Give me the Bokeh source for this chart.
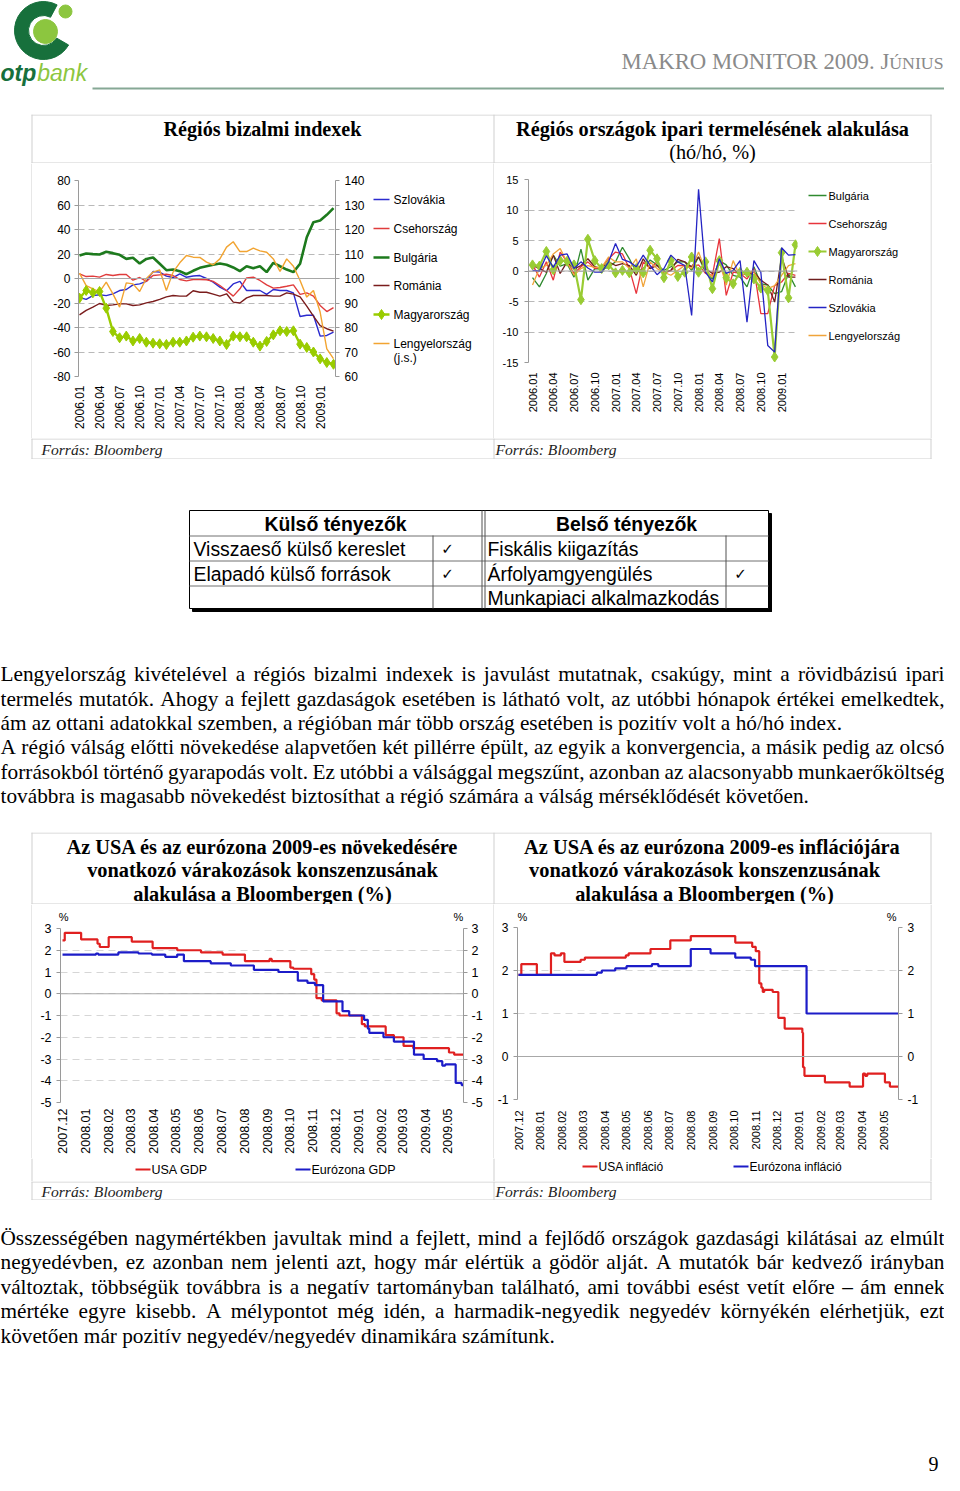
import os, glob, math
import pandas as pd
from bokeh.plotting import figure
from bokeh.models import (Range1d, LinearAxis, FixedTicker, Span, MonthsTicker, DatetimeTickFormatter)
from bokeh.layouts import column, row
from bokeh.core.properties import value
from bokeh.embed import file_html
from bokeh.resources import INLINE
try:
    from PIL import ImageFont
except Exception:
    ImageFont = None

# ======================= DATA =======================
months_top = ["2006.01", "2006.02", "2006.03", "2006.04", "2006.05", "2006.06", "2006.07", "2006.08",
              "2006.09", "2006.10", "2006.11", "2006.12", "2007.01", "2007.02", "2007.03", "2007.04",
              "2007.05", "2007.06", "2007.07", "2007.08", "2007.09", "2007.10", "2007.11", "2007.12",
              "2008.01", "2008.02", "2008.03", "2008.04", "2008.05", "2008.06", "2008.07", "2008.08",
              "2008.09", "2008.10", "2008.11", "2008.12", "2009.01", "2009.02", "2009.03"]

conf_szlovakia = [-15.5, -17.0, -14.0, -13.3, -14.0, -12.5, -9.8, -9.0, -5.2, -4.4, -2.4, 5.7, 5.2, 1.9,
                  0.8, 3.8, 1.0, 2.0, 2.4, 0.0, -3.0, -7.0, -10.0, -4.4, -2.4, -9.8, -9.8, -9.8, -13.0,
                  -9.0, -9.8, -9.8, -11.7, -31.0, -30.0, -30.0, -47.0, -46.5, -43.8]
conf_cseh = [3.8, 1.6, 1.9, 1.1, 3.3, 2.4, 3.3, 3.3, -1.4, 0.8, -2.4, 2.4, 3.0, 3.5, 2.4, -0.8, -1.9,
             -0.8, -0.8, -1.0, -2.4, -5.7, -9.8, -14.4, -8.4, 0.5, 1.1, -1.6, -5.2, -7.9, -7.3, -6.3,
             -5.2, -13.0, -11.7, -14.4, -22.0, -27.0, -23.7]
conf_bulgaria = [18.8, 20.4, 19.9, 19.6, 21.8, 20.7, 19.3, 16.0, 16.9, 12.2, 16.0, 17.1, 12.0, 6.8, 7.3,
                 6.0, 3.5, 6.3, 8.7, 10.0, 11.2, 12.2, 11.2, 9.0, 6.0, 10.0, 8.4, 10.0, 5.2, 12.8, 10.0,
                 7.3, 5.2, 12.0, 33.7, 46.0, 47.3, 52.0, 57.4]
conf_romania = [-29.7, -26.0, -23.4, -20.4, -22.0, -21.5, -20.7, -20.7, -22.0, -21.5, -19.9, -18.8,
                -17.1, -15.0, -13.9, -14.4, -14.4, -10.0, -11.2, -11.2, -12.8, -14.4, -12.5, -19.3,
                -20.0, -15.8, -13.9, -13.9, -13.9, -14.4, -14.4, -11.7, -12.8, -15.0, -22.6, -30.7,
                -38.4, -41.0, -43.0]
conf_magyar = [-16.0, -9.8, -11.7, -10.6, -24.2, -43.3, -48.4, -47.0, -51.0, -49.0, -52.0, -52.8, -53.3,
               -53.9, -52.0, -52.0, -51.0, -47.9, -47.0, -47.6, -49.0, -51.0, -53.9, -47.0, -47.6,
               -47.6, -52.0, -55.2, -51.4, -46.0, -42.7, -43.3, -42.7, -53.6, -56.3, -60.0, -65.6,
               -68.6, -70.0]
conf_lengyel = [102.2, 97.1, 95.8, 94.5, 98.5, 93.7, 88.3, 98.2, 97.8, 94.7, 100.0, 102.6, 103.5, 95.1,
                102.6, 106.4, 109.4, 108.7, 108.6, 106.7, 105.6, 108.0, 112.8, 115.0, 111.0, 111.0,
                112.4, 111.3, 110.7, 108.0, 102.9, 108.0, 105.0, 99.2, 92.4, 95.1, 86.3, 71.3, 67.3]
conf_left_ticks = [-80, -60, -40, -20, 0, 20, 40, 60, 80]
conf_right_ticks = [60, 70, 80, 90, 100, 110, 120, 130, 140]

ip_bulgaria = [-1.1, -2.6, -0.4, 2.6, 0.8, 1.2, -1.0, 3.6, -1.5, 0.4, 0.3, 0.6, 1.5, 3.9, 2.0, -0.2,
               0.4, 1.8, 1.0, 0.1, 0.7, 1.5, 1.5, 0.1, 2.3, -0.2, -1.3, 1.7, 1.0, -0.7, -1.0, -2.6, 0.7,
               -2.1, -2.3, -3.7, -3.4, -0.4, -2.6]
ip_cseh = [1.0, -1.0, 1.5, -1.5, 3.1, 1.5, -0.4, 0.7, 1.5, 0.4, 0.6, 2.0, 3.1, 2.8, 0.4, -3.7, 1.5, 0.4,
           1.5, -0.4, 0.1, 0.9, 0.9, 0.7, 1.0, -0.4, -0.7, 5.3, -4.0, -0.2, -0.4, -1.3, 0.4, -7.0, -7.0,
           -2.4, -1.8, -0.4, -0.7]
ip_magyar = [1.0, 0.8, 3.2, 0.2, 1.7, 1.6, 1.0, -4.7, 5.2, 1.7, 0.4, 1.0, -0.3, 0.1, -0.3, 0.4, -0.3,
             3.4, 2.0, -1.1, 1.7, -0.9, -0.2, 2.3, -0.2, 1.5, -2.9, 1.7, -1.1, -2.1, -0.2, -0.2, -1.3,
             -2.8, -3.2, -14.1, 3.0, -4.4, 4.3]
ip_romania = [0.9, 0.4, -0.2, 2.6, -0.4, 1.5, 0.3, 0.9, 2.0, 0.7, 0.4, 1.5, 0.9, 1.2, 0.9, -0.7, 2.0,
              0.4, 0.9, -0.2, 0.1, 1.9, 1.5, 0.7, 2.3, 0.4, -0.4, -0.2, 0.7, 0.4, -0.7, -0.4, -0.2,
              -1.5, -2.3, -5.1, 2.3, -1.0, -1.0]
ip_szlovakia = [0.1, 0.0, 2.5, 0.6, 2.6, 2.8, 0.4, 1.5, 0.5, -0.2, -0.2, 1.5, 4.5, 1.9, 1.5, 0.7, 2.6,
                0.9, -0.6, 0.4, 2.6, 1.5, 0.9, -7.3, 13.4, -0.2, -1.8, 2.0, -0.4, 0.1, 1.7, -8.4, 1.7,
                -0.2, -12.2, -13.3, 3.8, 2.6, 2.7]
ip_lengyel = [-2.3, 0.4, 0.9, 2.8, 3.7, 1.4, -0.7, 0.4, 0.9, 0.6, 0.6, 2.3, 1.5, 1.5, 0.4, 2.0, -2.6,
              1.5, 0.4, -0.2, -0.7, 0.1, 0.9, 0.4, 3.1, 0.1, -1.0, 1.5, -2.3, 1.7, -0.9, -0.2, -0.2,
              -2.1, -2.9, -2.4, -0.7, 0.9, 1.2]
ip_ticks = [-15, -10, -5, 0, 5, 10, 15]

gdp_usa_dates = ["2007-12-01", "2007-12-04", "2007-12-26", "2008-01-17", "2008-01-20", "2008-02-01",
                 "2008-03-03", "2008-03-31", "2008-05-03", "2008-06-04", "2008-07-03", "2008-08-02",
                 "2008-09-04", "2008-09-07", "2008-10-02", "2008-10-06", "2008-10-30", "2008-11-03",
                 "2008-11-06", "2008-11-13", "2008-12-03", "2008-12-07", "2009-01-06", "2009-01-10",
                 "2009-02-07", "2009-02-18", "2009-03-03", "2009-03-16", "2009-05-03", "2009-05-10",
                 "2009-05-22"]
gdp_usa_vals = [2.45, 2.8, 2.5, 2.3, 2.15, 2.6, 2.4, 2.1, 2.0, 1.9, 1.8, 1.5, 1.6, 1.5, 1.2, 1.15, 0.9,
                0.65, -0.2, -0.3, -0.9, -1.0, -1.4, -1.5, -1.9, -2.0, -2.4, -2.5, -2.7, -2.8, -2.8]
gdp_ez_dates = ["2007-12-01", "2008-01-15", "2008-01-18", "2008-02-14", "2008-03-12", "2008-03-30",
                "2008-04-17", "2008-05-03", "2008-05-12", "2008-06-17", "2008-07-14", "2008-08-14",
                "2008-09-16", "2008-10-12", "2008-10-25", "2008-11-04", "2008-11-15", "2008-12-11",
                "2008-12-20", "2009-01-09", "2009-01-14", "2009-01-16", "2009-02-04", "2009-02-18",
                "2009-03-17", "2009-03-30", "2009-04-17", "2009-04-24", "2009-04-28", "2009-05-12",
                "2009-05-20", "2009-05-22"]
gdp_ez_vals = [1.8, 1.85, 1.8, 1.9, 1.85, 1.8, 1.7, 1.8, 1.5, 1.4, 1.3, 1.1, 1.0, 0.6, 0.5, 0.4, -0.35,
               -0.8, -1.0, -1.2, -1.6, -1.8, -2.0, -2.2, -2.8, -3.0, -3.1, -3.3, -3.25, -4.1, -4.2, -4.2]
gdp_ticks = [-5, -4, -3, -2, -1, 0, 1, 2, 3]

inf_usa_dates = ["2007-12-01", "2007-12-05", "2007-12-27", "2008-01-16", "2008-01-21", "2008-01-30",
                 "2008-02-04", "2008-02-27", "2008-03-04", "2008-05-01", "2008-05-05", "2008-06-05",
                 "2008-07-03", "2008-08-01", "2008-10-03", "2008-10-27", "2008-11-01", "2008-11-06",
                 "2008-11-09", "2008-11-11", "2008-11-13", "2008-11-25", "2008-12-03", "2008-12-12",
                 "2009-01-06", "2009-01-07", "2009-01-09", "2009-02-07", "2009-03-14", "2009-04-02",
                 "2009-04-05", "2009-04-08", "2009-05-03", "2009-05-10", "2009-05-22"]
inf_usa_vals = [1.9, 2.15, 1.9, 2.4, 2.35, 2.4, 2.2, 2.25, 2.3, 2.35, 2.4, 2.5, 2.7, 2.8, 2.65, 2.55,
                2.45, 1.7, 1.6, 1.5, 1.55, 1.5, 0.9, 0.65, 0.55, -0.25, -0.45, -0.6, -0.7, -0.4, -0.45,
                -0.4, -0.6, -0.7, -0.7]
inf_ez_dates = ["2007-12-01", "2008-03-21", "2008-03-28", "2008-04-16", "2008-05-02", "2008-06-07",
                "2008-06-16", "2008-08-01", "2008-08-29", "2008-10-03", "2008-10-25", "2008-10-31",
                "2009-01-12", "2009-05-22"]
inf_ez_vals = [1.9, 1.95, 2.0, 2.05, 2.1, 2.15, 2.1, 2.5, 2.4, 2.3, 2.25, 2.1, 1.0, 1.0]
inf_ticks = [-1, 0, 1, 2, 3]

title_conf = "Régiós bizalmi indexek"
title_ip = ["Régiós országok ipari termelésének alakulása", "(hó/hó, %)"]
title_gdp = ["Az USA és az eurózona 2009-es növekedésére", "vonatkozó várakozások konszenzusának",
             "alakulása a Bloombergen (%)"]
title_inf = ["Az USA és az eurózona 2009-es inflációjára", "vonatkozó várakozások konszenzusának",
             "alakulása a Bloombergen (%)"]
source_text = "Forrás: Bloomberg"
table_head = ["Külső tényezők", "Belső tényezők"]
table_left = ["Visszaeső külső kereslet", "Elapadó külső források", ""]
table_left_check = [True, True, False]
table_right = ["Fiskális kiigazítás", "Árfolyamgyengülés", "Munkapiaci alkalmazkodás"]
table_right_check = [False, True, False]
para1 = ["Lengyelország kivételével a régiós bizalmi indexek is javulást mutatnak, csakúgy, mint a rövidbázisú ipari",
         "termelés mutatók. Ahogy a fejlett gazdaságok esetében is látható volt, az utóbbi hónapok értékei emelkedtek,",
         "ám az ottani adatokkal szemben, a régióban már több ország esetében is pozitív volt a hó/hó index.",
         "A régió válság előtti növekedése alapvetően két pillérre épült, az egyik a konvergencia, a másik pedig az olcsó",
         "forrásokból történő gyarapodás volt. Ez utóbbi a válsággal megszűnt, azonban az alacsonyabb munkaerőköltség",
         "továbbra is magasabb növekedést biztosíthat a régió számára a válság mérséklődését követően."]
para1_justify = [True, True, False, True, True, False]
para2 = ["Összességében nagymértékben javultak mind a fejlett, mind a fejlődő országok gazdasági kilátásai az elmúlt",
         "negyedévben, ez azonban nem jelenti azt, hogy már elértük a gödör alját. A mutatók bár kedvező irányban",
         "változtak, többségük továbbra is a negatív tartományban található, ami további esést vetít előre – ám ennek",
         "mértéke egyre kisebb. A mélypontot még idén, a harmadik-negyedik negyedév környékén elérhetjük, ezt",
         "követően már pozitív negyedév/negyedév dinamikára számítunk."]
para2_justify = [True, True, True, True, False]

# ======================= STYLE =======================
SANS = "Liberation Sans"
SERIF = "Liberation Serif"
BORDER = "#cfcfcf"
AXIS = "#9a9a9a"
GRID = "#b9b9b9"
ZERO = "#a8a8a8"
DARK_G = "#17703c"
LIGHT_G = "#8cc63f"
W = 944

C_SZL, C_CZ, C_BG, C_RO, C_HU, C_PL = "#2b2bcf", "#e03c3c", "#1d7a1d", "#7a1c1c", "#99cc00", "#f2a431"
D_BG, D_CZ, D_HU, D_RO, D_SZL, D_PL = "#2f8a2f", "#e8343c", "#99cc33", "#6e1d1d", "#2424c4", "#f0a43a"
C_USA, C_EZ = "#e02020", "#1c1cc8"

_fonts = {}
def _load(fname):
    if fname in _fonts:
        return _fonts[fname]
    f = None
    if ImageFont is not None:
        hits = []
        for base in ["/usr/share/fonts", "/usr/local/share/fonts", os.path.expanduser("~/.fonts")]:
            hits += glob.glob(base + "/**/" + fname, recursive=True)
        if hits:
            try:
                f = ImageFont.truetype(sorted(hits)[0], 100)
            except Exception:
                f = None
    _fonts[fname] = f
    return f

def tw(s, fname, size, avg=0.47):
    f = _load(fname)
    if f is None:
        return avg * size * len(s)
    return f.getlength(s) * size / 100.0

def fit(s, fname, width, default):
    if _load(fname) is None:
        return default
    return width / tw(s, fname, 1.0)

def no_align(f):
    try:
        f.frame_align = False
    except Exception:
        pass
    return f

def page_fig(w, h, bg="white"):
    f = figure(width=w, height=h, x_range=Range1d(0, w), y_range=Range1d(h, 0),
               x_axis_type=None, y_axis_type=None, min_border=0,
               output_backend="svg", toolbar_location=None)
    f.outline_line_color = None
    f.background_fill_color = bg
    f.border_fill_color = bg
    return no_align(f)

def put(f, xs, ys, texts, size, font=SERIF, style="normal", color="black", align="left", baseline="middle"):
    f.text(x=list(xs), y=list(ys), text=list(texts), text_font=value(font),
           text_font_size=value("%.2fpx" % size), text_font_style=style, text_color=color,
           text_align=align, text_baseline=baseline)

def chart_common(p):
    no_align(p)
    p.outline_line_color = None
    p.background_fill_color = "white"
    p.border_fill_color = "white"
    p.xgrid.visible = False

def style_y(ax, size, standoff=4, tick_out=4):
    ax.axis_line_color = AXIS
    ax.major_tick_line_color = AXIS
    ax.major_tick_out = tick_out
    ax.major_tick_in = 0
    ax.minor_tick_line_color = None
    ax.major_label_text_font = SANS
    ax.major_label_text_font_size = "%spx" % size
    ax.major_label_text_color = "black"
    ax.major_label_standoff = standoff

def style_x(ax, size, standoff):
    ax.axis_line_color = None
    ax.major_tick_line_color = None
    ax.minor_tick_line_color = None
    ax.major_tick_out = 0
    ax.major_tick_in = 0
    ax.minor_tick_out = 0
    ax.major_label_text_font = SANS
    ax.major_label_text_font_size = "%spx" % size
    ax.major_label_text_color = "black"
    ax.major_label_standoff = standoff
    ax.major_label_orientation = math.pi / 2

def labels_for(ticks):
    return {t: str(t) for t in ticks}

def pct_axis(p, left_frac, right_frac, standoff):
    # "%" unit marks above both value axes
    p.extra_x_ranges = {"pct": Range1d(0, 1)}
    ax = LinearAxis(x_range_name="pct", ticker=FixedTicker(ticks=[left_frac, right_frac]),
                    major_label_overrides={left_frac: "%", right_frac: "%"})
    ax.axis_line_color = None
    ax.major_tick_line_color = None
    ax.minor_tick_line_color = None
    ax.major_tick_out = 0
    ax.major_tick_in = 0
    ax.minor_tick_out = 0
    ax.major_label_text_font = SANS
    ax.major_label_text_font_size = "11px"
    ax.major_label_text_color = "black"
    ax.major_label_standoff = standoff
    p.add_layout(ax, "above")

def box_lines(f, h, top=True, bottom=True):
    ys = ([0.5] if top else []) + ([h - 0.5] if bottom else [])
    if ys:
        f.segment(x0=[31] * len(ys), y0=ys, x1=[931] * len(ys), y1=ys, line_color=BORDER, line_width=1)
    f.segment(x0=[31.5, 493.5, 930.5], y0=[0, 0, 0], x1=[31.5, 493.5, 930.5], y1=[h, h, h],
              line_color=BORDER, line_width=1)

def legend_entry(f, x0, x1, y, color, lw, label, size, diamond=False, tx=None):
    f.segment(x0=[x0], y0=[y], x1=[x1], y1=[y], line_color=color, line_width=lw)
    if diamond:
        f.scatter(x=[(x0 + x1) / 2.0], y=[y], marker="diamond", size=10, color=color)
    put(f, [x1 + 1 if tx is None else tx], [y], [label], size, font=SANS)

# ======================= HEADER (ref y 0..114) =======================
SR = "LiberationSerif-Regular.ttf"
SB = "LiberationSerif-Bold.ttf"
SI = "LiberationSerif-Italic.ttf"
hdr = page_fig(W, 114)
hdr.annular_wedge(x=[43], y=[30], inner_radius=15, outer_radius=29,
                  start_angle=math.radians(62), end_angle=math.radians(-30),
                  direction="anticlock", color=DARK_G)
hdr.circle(x=[45], y=[31], radius=12, color=LIGHT_G)
hdr.circle(x=[65], y=[11], radius=6.5, color=LIGHT_G)
otp_sz = 23
otp_w = tw("otp", "LiberationSans-BoldItalic.ttf", otp_sz, 0.55)
put(hdr, [0], [72], ["otp"], otp_sz, font=SANS, style="bold italic", color=DARK_G)
put(hdr, [otp_w + 1], [72], ["bank"], otp_sz, font=SANS, style="italic", color=LIGHT_G)
h_main, h_small = "MAKRO MONITOR 2009. J", "ÚNIUS"
if _load(SR) is not None:
    hsz = 322.0 / (tw(h_main, SR, 1.0) + 0.78 * tw(h_small, SR, 1.0))
else:
    hsz = 22.0
w_small = tw(h_small, SR, 0.78 * hsz)
put(hdr, [943], [61 + 0.066 * hsz], [h_small], 0.78 * hsz, color="#8a8a8a", align="right")
put(hdr, [943 - w_small], [61], [h_main], hsz, color="#8a8a8a", align="right")
hdr.segment(x0=[92], y0=[88], x1=[944], y1=[88], line_color="#86a895", line_width=2)

# ======================= TOP TITLES (ref y 114..163) =======================
top_t = page_fig(W, 49)
box_lines(top_t, 49)
put(top_t, [262], [14], [title_conf], fit(title_conf, SB, 198, 20), style="bold", align="center")
sz2 = fit(title_ip[0], SB, 393, 20)
put(top_t, [712], [14], [title_ip[0]], sz2, style="bold", align="center")
put(top_t, [712], [37], [title_ip[1]], sz2, align="center")

# ======================= TOP-LEFT CHART (ref x 32..372, y 163..438) =======================
xm = list(range(len(months_top)))
p1 = figure(width=340, height=275, x_range=Range1d(-0.15, 38.3), y_range=Range1d(-80, 80),
            min_border_left=46, min_border_right=37, min_border_top=17, min_border_bottom=62,
            output_backend="svg", toolbar_location=None)
chart_common(p1)
p1.extra_y_ranges = {"js": Range1d(60, 140)}
yt1 = FixedTicker(ticks=conf_left_ticks)
style_y(p1.yaxis[0], 12, standoff=4)
p1.yaxis[0].ticker = yt1
p1.yaxis[0].major_label_overrides = labels_for(conf_left_ticks)
p1.ygrid.ticker = yt1
p1.ygrid.grid_line_color = GRID
p1.ygrid.grid_line_dash = "6 4"
style_x(p1.xaxis[0], 12, 9)
p1.xaxis[0].ticker = FixedTicker(ticks=list(range(0, len(months_top), 3)))
p1.xaxis[0].major_label_overrides = {i: months_top[i] for i in range(0, len(months_top), 3)}
p1.add_layout(Span(location=0, dimension="width", line_color=ZERO, line_width=1))
p1.line(xm, conf_szlovakia, line_color=C_SZL, line_width=1.4)
p1.line(xm, conf_cseh, line_color=C_CZ, line_width=1.4)
p1.line(xm, conf_bulgaria, line_color=C_BG, line_width=2.6)
p1.line(xm, conf_romania, line_color=C_RO, line_width=1.4)
p1.line(xm, conf_lengyel, y_range_name="js", line_color=C_PL, line_width=1.4)
p1.line(xm, conf_magyar, line_color=C_HU, line_width=2.4)
p1.scatter(xm, conf_magyar, marker="diamond", size=10, fill_color=C_HU, line_color=C_HU)
ra = LinearAxis(y_range_name="js", ticker=FixedTicker(ticks=conf_right_ticks))
style_y(ra, 12, standoff=5)
ra.major_label_overrides = labels_for(conf_right_ticks)
p1.add_layout(ra, "right")

leg1 = page_fig(121, 275)
ly1 = [36, 65, 94, 122, 151, 180]
legend_entry(leg1, 1, 17, ly1[0], C_SZL, 1.6, "Szlovákia", 12, tx=21)
legend_entry(leg1, 1, 17, ly1[1], C_CZ, 1.6, "Csehország", 12, tx=21)
legend_entry(leg1, 1, 17, ly1[2], C_BG, 2.6, "Bulgária", 12, tx=21)
legend_entry(leg1, 1, 17, ly1[3], C_RO, 1.6, "Románia", 12, tx=21)
legend_entry(leg1, 1, 17, ly1[4], C_HU, 2.4, "Magyarország", 12, diamond=True, tx=21)
legend_entry(leg1, 1, 17, ly1[5], C_PL, 1.6, "Lengyelország", 12, tx=21)
put(leg1, [21], [ly1[5] + 14], ["(j.s.)"], 12, font=SANS)

# ======================= TOP-RIGHT CHART (ref x 494..800) =======================
p2 = figure(width=306, height=275, x_range=Range1d(-0.58, 38.3), y_range=Range1d(-15, 15),
            min_border_left=34, min_border_right=3, min_border_top=16, min_border_bottom=76,
            output_backend="svg", toolbar_location=None)
chart_common(p2)
yt2 = FixedTicker(ticks=ip_ticks)
style_y(p2.yaxis[0], 11, standoff=6)
p2.yaxis[0].ticker = yt2
p2.yaxis[0].major_label_overrides = labels_for(ip_ticks)
p2.ygrid.ticker = yt2
p2.ygrid.grid_line_color = GRID
p2.ygrid.grid_line_dash = "6 4"
style_x(p2.xaxis[0], 11, 10)
p2.xaxis[0].ticker = FixedTicker(ticks=list(range(0, len(months_top), 3)))
p2.xaxis[0].major_label_overrides = {i: months_top[i] for i in range(0, len(months_top), 3)}
p2.add_layout(Span(location=0, dimension="width", line_color=ZERO, line_width=1))
p2.line(xm, ip_bulgaria, line_color=D_BG, line_width=1.3)
p2.line(xm, ip_cseh, line_color=D_CZ, line_width=1.3)
p2.line(xm, ip_romania, line_color=D_RO, line_width=1.3)
p2.line(xm, ip_lengyel, line_color=D_PL, line_width=1.3)
p2.line(xm, ip_magyar, line_color=D_HU, line_width=2.2)
p2.scatter(xm, ip_magyar, marker="diamond", size=10, fill_color=D_HU, line_color=D_HU)
p2.line(xm, ip_szlovakia, line_color=D_SZL, line_width=1.3)

leg2 = page_fig(130, 275)
ly2 = [32, 60, 88, 116, 144, 172]
legend_entry(leg2, 8, 26, ly2[0], D_BG, 1.6, "Bulgária", 11, tx=28)
legend_entry(leg2, 8, 26, ly2[1], D_CZ, 1.6, "Csehország", 11, tx=28)
legend_entry(leg2, 8, 26, ly2[2], D_HU, 2.2, "Magyarország", 11, diamond=True, tx=28)
legend_entry(leg2, 8, 26, ly2[3], D_RO, 1.6, "Románia", 11, tx=28)
legend_entry(leg2, 8, 26, ly2[4], D_SZL, 1.6, "Szlovákia", 11, tx=28)
legend_entry(leg2, 8, 26, ly2[5], D_PL, 1.6, "Lengyelország", 11, tx=28)

def pad_left(h):
    f = page_fig(32, h)
    f.segment(x0=[31.5], y0=[0], x1=[31.5], y1=[h], line_color=BORDER, line_width=1)
    return f

def pad_right(h):
    f = page_fig(W - 930, h)
    f.segment(x0=[0.5], y0=[0], x1=[0.5], y1=[h], line_color=BORDER, line_width=1)
    return f

top_chart_row = row(pad_left(275), p1, leg1, page_fig(1, 275, bg=BORDER), p2, leg2, pad_right(275),
                    spacing=0)

# ======================= TOP SOURCES (ref y 438..459) =======================
src_sz = fit(source_text, SI, 121, 15.5)
top_s = page_fig(W, 21)
box_lines(top_s, 21)
put(top_s, [41, 495], [11, 11], [source_text] * 2, src_sz, style="italic", color="#222222")

# ======================= MIDDLE (ref y 459..832): table + paragraph =======================
PW = 944.0
body_sz = fit(para1[2], SR, 842.0, 19.3)

def paragraph(f, lines, just, ys, size):
    lx, ly, lt, rx, ry, rt = [], [], [], [], [], []
    for line, j, y in zip(lines, just, ys):
        if j:
            words = line.split(" ")
            ws = [tw(w, SR, size) for w in words]
            gap = (PW - sum(ws)) / (len(words) - 1)
            x = 0.0
            for k, (w, wd) in enumerate(zip(words, ws)):
                if k == len(words) - 1:
                    rx.append(PW); ry.append(y); rt.append(w)
                else:
                    lx.append(x); ly.append(y); lt.append(w)
                x += wd + gap
        else:
            lx.append(0); ly.append(y); lt.append(line)
    put(f, lx, ly, lt, size)
    if rt:
        put(f, rx, ry, rt, size, align="right")

mid = page_fig(W, 373)
TL, TR, TT, TB = 189, 768, 51, 149
mid.quad(left=[TR], right=[TR + 3], top=[TT + 3], bottom=[TB + 3], color="black")
mid.quad(left=[TL + 3], right=[TR + 3], top=[TB], bottom=[TB + 3], color="black")
mid.quad(left=[TL], right=[TR], top=[TT], bottom=[TB], fill_color="white", line_color="black", line_width=1)
mid.segment(x0=[TL, TL, TL], y0=[76.5, 101.5, 126.5], x1=[TR, TR, TR], y1=[76.5, 101.5, 126.5],
            line_color="#707070", line_width=1)
mid.segment(x0=[432.5, 725.5, 481.5, 484.5], y0=[76, 76, TT, TT], x1=[432.5, 725.5, 481.5, 484.5],
            y1=[TB, TB, TB, TB], line_color="#505050", line_width=1)
tsz = fit(table_left[0], "LiberationSans-Regular.ttf", 212, 19)
put(mid, [335, 626], [64, 64], table_head, tsz, font=SANS, style="bold", align="center")
rows_y = [89, 114, 138]
put(mid, [193] * 3, rows_y, table_left, tsz, font=SANS)
put(mid, [487] * 3, rows_y, table_right, tsz, font=SANS)
cx, cy = [], []
for k in range(3):
    if table_left_check[k]:
        cx.append(447); cy.append(rows_y[k])
    if table_right_check[k]:
        cx.append(740); cy.append(rows_y[k])
put(mid, cx, cy, ["✓"] * len(cx), 15, font="DejaVu Sans", align="center")
paragraph(mid, para1, para1_justify, [214, 239, 263, 287, 312, 336], body_sz)

# ======================= BOTTOM TITLES (ref y 832..904) =======================
bot_t = page_fig(W, 72)
box_lines(bot_t, 72)
sz3 = fit(title_gdp[0], SB, 391, 20)
put(bot_t, [262, 262, 262], [14, 37, 61], title_gdp, sz3, style="bold", align="center")
sz4 = fit(title_inf[0], SB, 376, 20)
put(bot_t, [712, 704, 704], [14, 37, 61], title_inf, sz4, style="bold", align="center")

# ======================= BOTTOM-LEFT CHART (ref x 32..493, y 904..1158) =======================
x3s, x3e = "2007-11-28 07:00", "2009-05-22 12:00"
p3 = figure(width=461, height=254, x_axis_type="datetime",
            x_range=Range1d(pd.Timestamp(x3s), pd.Timestamp(x3e)), y_range=Range1d(-5, 3),
            min_border_left=28, min_border_right=30, min_border_top=24, min_border_bottom=56,
            output_backend="svg", toolbar_location=None)
chart_common(p3)
yt3 = FixedTicker(ticks=gdp_ticks)
style_y(p3.yaxis[0], 12.5, standoff=5)
p3.yaxis[0].ticker = yt3
p3.yaxis[0].major_label_overrides = labels_for(gdp_ticks)
p3.ygrid.ticker = yt3
p3.ygrid.grid_line_color = "#d6d6d6"
p3.ygrid.grid_line_dash = "7 5"
style_x(p3.xaxis[0], 12.5, 6)
p3.xaxis[0].ticker = MonthsTicker(months=list(range(1, 13)))
p3.xaxis[0].formatter = DatetimeTickFormatter(days="%Y.%m", months="%Y.%m", years="%Y.%m")
p3.add_layout(Span(location=0, dimension="width", line_color=ZERO, line_width=1))
p3.step(pd.to_datetime(gdp_usa_dates), gdp_usa_vals, mode="after", line_color=C_USA, line_width=2.2)
p3.step(pd.to_datetime(gdp_ez_dates), gdp_ez_vals, mode="after", line_color=C_EZ, line_width=2.2)
ra3 = LinearAxis(ticker=FixedTicker(ticks=gdp_ticks))
style_y(ra3, 12.5, standoff=4)
ra3.major_label_overrides = labels_for(gdp_ticks)
p3.add_layout(ra3, "right")
pct_axis(p3, 0.0075, 0.9875, 6)

# ======================= BOTTOM-RIGHT CHART (ref x 494..930, y 904..1158) =======================
x4s, x4e = "2007-11-29 14:00", "2009-05-22 05:00"
p4 = figure(width=436, height=254, x_axis_type="datetime",
            x_range=Range1d(pd.Timestamp(x4s), pd.Timestamp(x4e)), y_range=Range1d(-1, 3),
            min_border_left=23, min_border_right=32, min_border_top=23, min_border_bottom=59,
            output_backend="svg", toolbar_location=None)
chart_common(p4)
yt4 = FixedTicker(ticks=inf_ticks)
style_y(p4.yaxis[0], 12, standoff=5)
p4.yaxis[0].ticker = yt4
p4.yaxis[0].major_label_overrides = labels_for(inf_ticks)
p4.ygrid.ticker = yt4
p4.ygrid.grid_line_color = "#d6d6d6"
p4.ygrid.grid_line_dash = "7 5"
style_x(p4.xaxis[0], 11, 11)
p4.xaxis[0].ticker = MonthsTicker(months=list(range(1, 13)))
p4.xaxis[0].formatter = DatetimeTickFormatter(days="%Y.%m", months="%Y.%m", years="%Y.%m")
p4.add_layout(Span(location=0, dimension="width", line_color=ZERO, line_width=1))
p4.step(pd.to_datetime(inf_usa_dates), inf_usa_vals, mode="after", line_color=C_USA, line_width=2.2)
p4.step(pd.to_datetime(inf_ez_dates), inf_ez_vals, mode="after", line_color=C_EZ, line_width=2.2)
ra4 = LinearAxis(ticker=FixedTicker(ticks=inf_ticks))
style_y(ra4, 12, standoff=5)
ra4.major_label_overrides = labels_for(inf_ticks)
p4.add_layout(ra4, "right")
pct_axis(p4, 0.013, 0.982, 5)

bot_chart_row = row(pad_left(254), p3, page_fig(1, 254, bg=BORDER), p4, pad_right(254), spacing=0)

# ======================= BOTTOM LEGENDS (ref y 1158..1181) =======================
bot_l = page_fig(W, 23)
box_lines(bot_l, 23, top=False, bottom=False)
legend_entry(bot_l, 135, 150, 11, C_USA, 2.2, "USA GDP", 12.5)
legend_entry(bot_l, 295, 310, 11, C_EZ, 2.2, "Eurózona GDP", 12.5)
legend_entry(bot_l, 582, 597, 8, C_USA, 2.2, "USA infláció", 12)
legend_entry(bot_l, 733, 748, 8, C_EZ, 2.2, "Eurózona infláció", 12)

# ======================= BOTTOM SOURCES (ref y 1181..1200) =======================
bot_s = page_fig(W, 19)
box_lines(bot_s, 19)
put(bot_s, [41, 495], [9.5, 9.5], [source_text] * 2, src_sz, style="italic", color="#222222")

# ======================= LAST PARAGRAPH (ref y 1200..1475) =======================
bot = page_fig(W, 275)
paragraph(bot, para2, para2_justify, [37, 61, 86, 110, 135], body_sz)
put(bot, [938], [263], ["9"], 20, align="right")

# ======================= LAYOUT =======================
page = column(hdr, top_t, top_chart_row, top_s, mid, bot_t, bot_chart_row, bot_l, bot_s, bot, spacing=0)
open("out.html", "w").write(file_html(page, INLINE))
